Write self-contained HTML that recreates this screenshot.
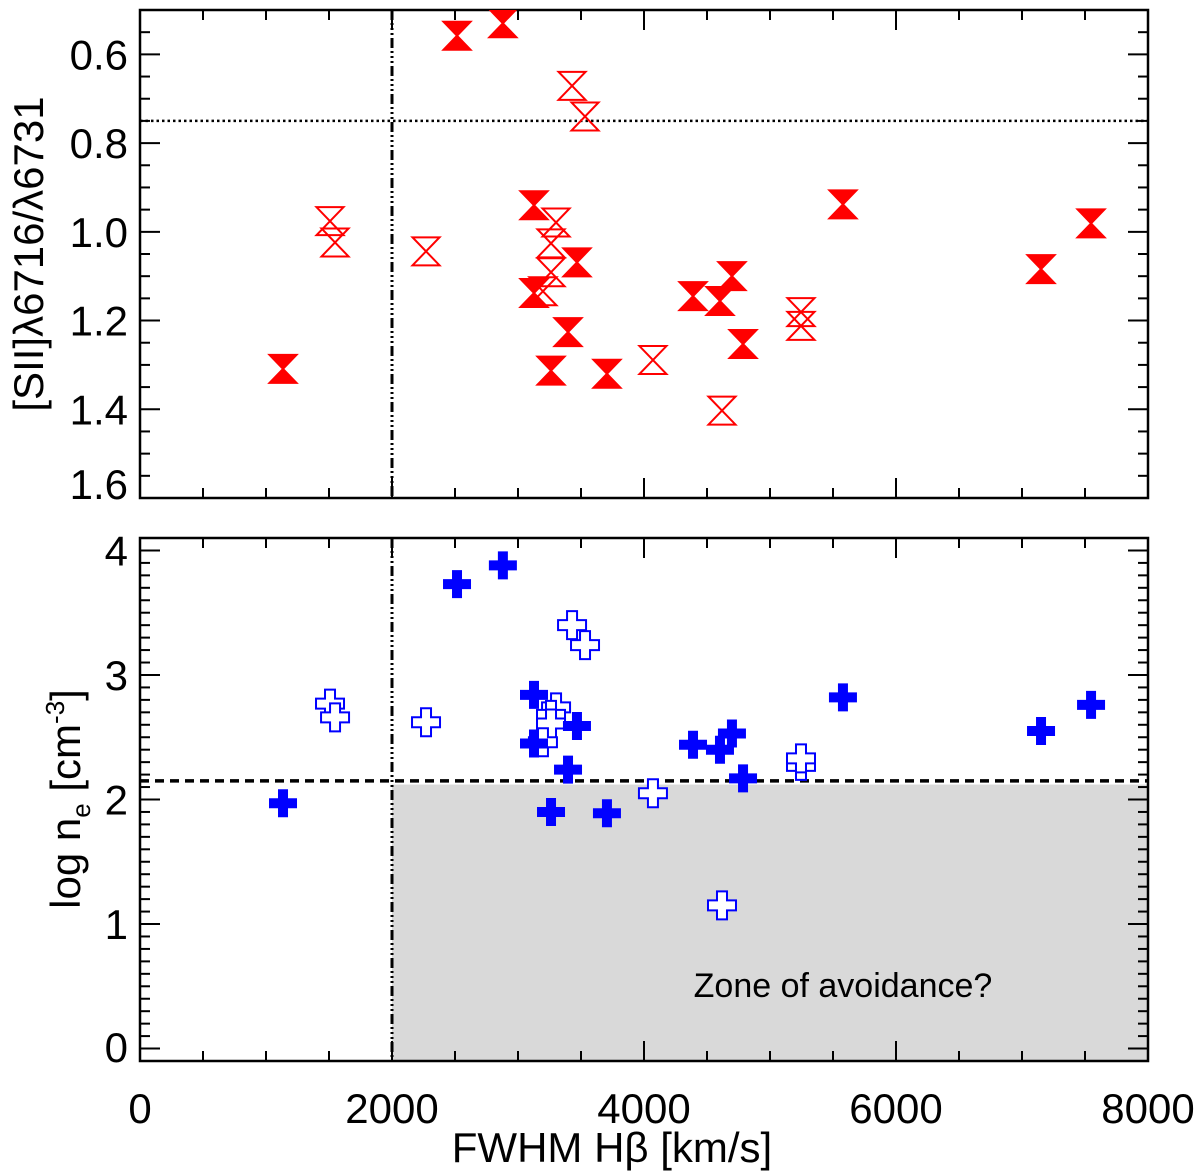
<!DOCTYPE html>
<html><head><meta charset="utf-8"><style>
html,body{margin:0;padding:0;background:#fff;}
svg{display:block;font-family:"Liberation Sans",Arial,sans-serif;}
</style></head><body>
<svg id="chart" width="1200" height="1173" viewBox="0 0 1200 1173" xmlns="http://www.w3.org/2000/svg"></svg>
<script>
// ---- data ----
const fwhmFilled = [1135,2516,2880,3127,3468,3127,3397,3262,3706,4389,4603,4698,4786,5579,7151,7548];
const ratioFilled = [1.309,0.558,0.53,0.940,1.069,1.138,1.226,1.313,1.320,1.145,1.156,1.100,1.253,0.938,1.084,0.981];
const neFilled = [1.97,3.73,3.88,2.84,2.59,2.45,2.24,1.90,1.89,2.44,2.40,2.53,2.17,2.82,2.55,2.76];
const fwhmOpen = [1508,1548,2270,3429,3532,3302,3262,3262,3198,4071,4619,5246,5246];
const ratioOpen = [0.976,1.024,1.044,0.671,0.740,0.979,1.026,1.091,1.134,1.289,1.403,1.181,1.212];
const neOpen = [2.77,2.66,2.62,3.40,3.24,2.74,2.68,2.61,2.46,2.05,1.15,2.27,2.33];
const xTicks = [0,2000,4000,6000,8000];
const xTickLabels = ["0","2000","4000","6000","8000"];
const topTicks = [0.6,0.8,1.0,1.2,1.4,1.6];
const topTickLabels = ["0.6","0.8","1.0","1.2","1.4","1.6"];
const botTicks = [0,1,2,3,4];
const botTickLabels = ["0","1","2","3","4"];
const fwhmCut = 2000, ratioLine = 0.75, neLine = 2.15, zoneTop = 2.12;

const NS="http://www.w3.org/2000/svg";
const svg=document.getElementById('chart');
function mk(tag,attrs,parent){const e=document.createElementNS(NS,tag);for(const k in attrs)e.setAttribute(k,attrs[k]);(parent||svg).appendChild(e);return e;}

const L=140,R=1148;
const x=v=>L+(v-0)/(8000)*(R-L);
const T1=10,B1=498, yTop=v=>T1+(v-0.5)/(1.6-0.5)*(B1-T1);
const T2=538,B2=1061, yBot=v=>B2-(v-(-0.1))/(4.1-(-0.1))*(B2-T2);

// zone
const zone=mk('rect',{x:x(fwhmCut),y:yBot(zoneTop),width:R-x(fwhmCut),height:B2-yBot(zoneTop),fill:'#d9d9d9'});


const zt=mk('text',{x:843,y:997,'font-size':34,'text-anchor':'middle',fill:'#000'});zt.textContent='Zone of avoidance?';



function frame(T,B,yf,ticks,labels,minorStep,ymin,ymax,name){
  const g=mk('g',{});
  
  
  mk('rect',{x:L,y:T,width:R-L,height:B-T,fill:'none',stroke:'#000','stroke-width':2.5},g);
  for(let v=0;v<=8000;v+=500){const maj=v%2000===0;const len=maj?20:10;
    mk('line',{x1:x(v),x2:x(v),y1:B,y2:B-len,stroke:'#000','stroke-width':2},g);
    mk('line',{x1:x(v),x2:x(v),y1:T,y2:T+len,stroke:'#000','stroke-width':2},g);}
  const n=Math.round((ymax-ymin)/minorStep);
  for(let i=0;i<=n;i++){const v=ymin+i*minorStep;const yy=yf(v);if(yy<T-0.5||yy>B+0.5)continue;
    const maj=ticks.some(t=>Math.abs(t-v)<1e-6);const len=maj?20:10;
    mk('line',{x1:L,x2:L+len,y1:yy,y2:yy,stroke:'#000','stroke-width':2},g);
    mk('line',{x1:R,x2:R-len,y1:yy,y2:yy,stroke:'#000','stroke-width':2},g);}
  ticks.forEach((t,i)=>{let yy=yf(t)+15;if(yy>B+1)yy=B+1;const tx=mk('text',{x:128,y:yy,'font-size':42,'text-anchor':'end'},g);tx.textContent=labels[i];
    
    });
  mk('line',{x1:x(fwhmCut),x2:x(fwhmCut),y1:T,y2:B,stroke:'#000','stroke-width':3,'stroke-dasharray':'10,3,2,3,2,3,2,3'},g);
}
frame(T1,B1,yTop,topTicks,topTickLabels,0.05,0.5,1.6,'top');
frame(T2,B2,yBot,botTicks,botTickLabels,0.1,-0.1,4.1,'bottom');

const hl1=mk('line',{x1:L,x2:R,y1:yTop(ratioLine),y2:yTop(ratioLine),stroke:'#000','stroke-width':2.5,'stroke-dasharray':'2.5,3'});


const hl2=mk('line',{x1:L,x2:R,y1:yBot(neLine),y2:yBot(neLine),stroke:'#000','stroke-width':3.5,'stroke-dasharray':'9,6'});



const defs=mk('defs',{});
const cp=mk('clipPath',{id:'c1'},defs);mk('rect',{x:L,y:T1,width:R-L,height:B1-T1},cp);
const gTop=mk('g',{'clip-path':'url(#c1)'});

function hourglass(cx,cy,filled){
  const w=13.5,h=14;
  const d=`M${cx-w},${cy-h}L${cx+w},${cy-h}L${cx-w},${cy+h}L${cx+w},${cy+h}Z`;
  return mk('path',{d:d,fill:filled?'#ff0000':'none',stroke:'#ff0000','stroke-width':2,'stroke-linejoin':'miter'},gTop);
}
function plus(cx,cy,filled){
  const a=14,t=5;
  const d=`M${cx-t},${cy-a}H${cx+t}V${cy-t}H${cx+a}V${cy+t}H${cx+t}V${cy+a}H${cx-t}V${cy+t}H${cx-a}V${cy-t}H${cx-t}Z`;
  return mk('path',{d:d,fill:filled?'#0000ff':'#fff',stroke:'#0000ff','stroke-width':filled?0:2});
}
fwhmOpen.forEach((v,i)=>{const p=hourglass(x(v),yTop(ratioOpen[i]),false);
  
  });
fwhmFilled.forEach((v,i)=>{const p=hourglass(x(v),yTop(ratioFilled[i]),true);
  
  });
fwhmOpen.forEach((v,i)=>{const p=plus(x(v),yBot(neOpen[i]),false);
  
  });
fwhmFilled.forEach((v,i)=>{const p=plus(x(v),yBot(neFilled[i]),true);
  
  });

xTicks.forEach((t,i)=>{const tx=mk('text',{x:x(t),y:1123,'font-size':42,'text-anchor':'middle'});tx.textContent=xTickLabels[i];
  
  });
const xt=mk('text',{x:612,y:1162,'font-size':42,'text-anchor':'middle'});xt.textContent='FWHM Hβ [km/s]';



const yt1=mk('text',{x:0,y:0,'font-size':42,'text-anchor':'middle',transform:'translate(43,254) rotate(-90)'});yt1.textContent='[SII]λ6716/λ6731';


const yt2=mk('text',{x:0,y:0,'font-size':42,'text-anchor':'middle',transform:'translate(80,799) rotate(-90)'});


yt2.innerHTML='log n<tspan font-size="26" dy="10">e</tspan><tspan dy="-10"> [cm</tspan><tspan font-size="26" dy="-16">-3</tspan><tspan dy="16">]</tspan>';
</script>
</body></html>
